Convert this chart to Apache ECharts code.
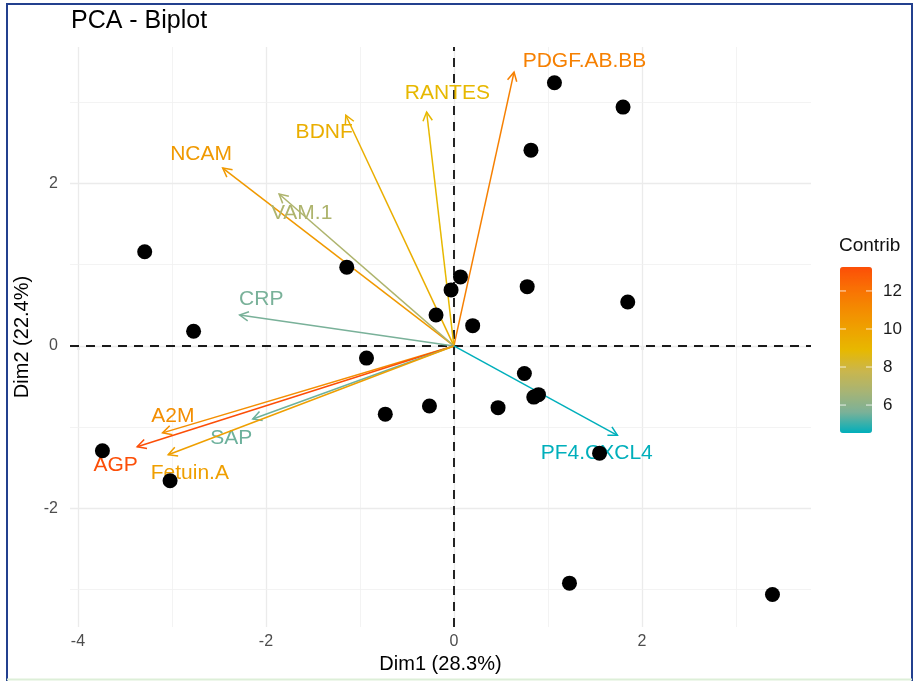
<!DOCTYPE html>
<html>
<head>
<meta charset="utf-8">
<script src="https://cdn.jsdelivr.net/npm/echarts@6/dist/echarts.min.js"></script>
<style>
html,body{margin:0;padding:0;background:#fff;}
#chart{width:914px;height:681px;}
</style>
</head>
<body>
<div id="chart"></div>
<script>
// ---- Data ----
// Variables (arrows)
const varNames   = ['PDGF.AB.BB','RANTES','BDNF','NCAM','VAM.1','CRP','A2M','AGP','SAP','Fetuin.A','PF4.CXCL4'];
const varDim1    = [0.64, -0.29, -1.15, -2.46, -1.86, -2.28, -3.10, -3.37, -2.14, -3.04, 1.74];
const varDim2    = [3.37,  2.88,  2.84,  2.19,  1.87,  0.38, -1.07, -1.24, -0.90, -1.34, -1.10];
const varContrib = [11.5,  8.9,   9.4,  10.4,   6.9,   5.6,  10.9,  13.26,  5.5,  10.1,  4.53];
// label anchor positions (data units)
const labDim1    = [1.39, -0.07, -1.38, -2.69, -1.62, -2.05, -2.99, -3.60, -2.37, -2.81, 1.52];
const labDim2    = [3.51,  3.11,  2.63,  2.36,  1.64,  0.58, -0.86, -1.47, -1.13, -1.57, -1.32];

// Individuals (points)
const indDim1 = [1.07, 1.80, 0.82, -3.29, -1.14, 0.07, -0.03, 0.78, 1.85, -2.77, -0.19, 0.20,
                 -0.93, 0.75, 0.90, 0.85, -0.73, -0.26, 0.47, -3.74, -3.02, 1.55, 1.23, 3.39];
const indDim2 = [3.24, 2.94, 2.41, 1.16, 0.97, 0.85, 0.69, 0.73, 0.54, 0.18, 0.38, 0.25,
                 -0.15, -0.34, -0.60, -0.63, -0.84, -0.74, -0.76, -1.29, -1.66, -1.32, -2.92, -3.06];

// Axes
const xTicks = [-4, -2, 0, 2];
const yTicks = [-2, 0, 2];
const xMajorGrid = [-4, -2, 0, 2];
const xMinorGrid = [-3, -1, 1, 3];
const yMajorGrid = [-2, 0, 2];
const yMinorGrid = [-3, -1, 1, 3];
const xRange = [-4.085, 3.80];
const yRange = [-3.46, 3.68];

// Colour legend (gradient #00AFBB -> #E7B800 -> #FC4E07, stops interpolated in Lab space)
const contribRange = [4.53, 13.26];
const contribTicks = [6, 8, 10, 12];
const gradientCols = ['#00AFBB', '#7BB198', '#A8B474', '#CAB64C', '#E7B800', '#EEA200', '#F48A01', '#F96F04', '#FC4E07'];

const FONT = 'Liberation Sans, Arial, Helvetica, sans-serif';

// ---- Build ----
const arrowData = varNames.map((n, i) => [varDim1[i], varDim2[i], varContrib[i], labDim1[i], labDim2[i], n]);
const pointData = indDim1.map((x, i) => [x, indDim2[i]]);

const gridLines = [];
xMajorGrid.forEach(v => gridLines.push({xAxis: v, lineStyle: {color: '#EBEBEB', width: 1.3, type: 'solid'}}));
xMinorGrid.forEach(v => gridLines.push({xAxis: v, lineStyle: {color: '#F0F0F0', width: 0.8, type: 'solid'}}));
yMajorGrid.forEach(v => gridLines.push({yAxis: v, lineStyle: {color: '#EBEBEB', width: 1.3, type: 'solid'}}));
yMinorGrid.forEach(v => gridLines.push({yAxis: v, lineStyle: {color: '#F0F0F0', width: 0.8, type: 'solid'}}));

const legTop = 267, legHeight = 166, legLeft = 840, legWidth = 32;
const legendGraphics = [];
contribTicks.forEach(v => {
  const y = legTop + (contribRange[1] - v) / (contribRange[1] - contribRange[0]) * legHeight;
  legendGraphics.push({type: 'line', z: 100, shape: {x1: legLeft, y1: y, x2: legLeft + 6, y2: y}, style: {stroke: 'rgba(255,255,255,0.8)', lineWidth: 1}});
  legendGraphics.push({type: 'line', z: 100, shape: {x1: legLeft + legWidth - 6, y1: y, x2: legLeft + legWidth, y2: y}, style: {stroke: 'rgba(255,255,255,0.8)', lineWidth: 1}});
  legendGraphics.push({type: 'text', z: 100, x: legLeft + legWidth + 11, y: y, style: {text: String(v), fill: '#1a1a1a', font: '17px ' + FONT, verticalAlign: 'middle', align: 'left'}});
});
legendGraphics.push({type: 'text', z: 100, x: legLeft - 1, y: 246, style: {text: 'Contrib', fill: '#111', font: '19px ' + FONT, verticalAlign: 'middle', align: 'left'}});
// screenshot frame
legendGraphics.push({type: 'polyline', z: 100, shape: {points: [[7, 681], [7, 4], [912, 4], [912, 681]]}, style: {stroke: '#23408E', lineWidth: 2, fill: null}});
legendGraphics.push({type: 'line', z: 100, shape: {x1: 7, y1: 679.5, x2: 912, y2: 679.5}, style: {stroke: '#DDEFD8', lineWidth: 2}});

const chart = echarts.init(document.getElementById('chart'), null, {renderer: 'canvas'});
chart.setOption({
  backgroundColor: '#fff',
  animation: false,
  title: {
    text: 'PCA - Biplot', left: 71, top: 9, padding: 0,
    textStyle: {fontFamily: FONT, fontSize: 25, fontWeight: 'normal', color: '#000'}
  },
  grid: {left: 70, right: 103, top: 47, bottom: 54},
  xAxis: {
    type: 'value', min: xRange[0], max: xRange[1],
    name: 'Dim1 (28.3%)', nameLocation: 'middle', nameGap: 25,
    nameTextStyle: {fontFamily: FONT, fontSize: 20, color: '#000'},
    axisLine: {show: false},
    axisTick: {show: true, customValues: xTicks, length: 4, lineStyle: {color: '#333', width: 1.2}},
    axisLabel: {customValues: xTicks, margin: 7, fontFamily: FONT, fontSize: 16, color: '#4D4D4D'},
    splitLine: {show: false}
  },
  yAxis: {
    type: 'value', min: yRange[0], max: yRange[1],
    name: 'Dim2 (22.4%)', nameLocation: 'middle', nameGap: 33,
    nameTextStyle: {fontFamily: FONT, fontSize: 20, color: '#000'},
    axisLine: {show: false},
    axisTick: {show: true, customValues: yTicks, length: 4, lineStyle: {color: '#333', width: 1.2}},
    axisLabel: {customValues: yTicks, margin: 12, fontFamily: FONT, fontSize: 16, color: '#4D4D4D'},
    splitLine: {show: false}
  },
  visualMap: {
    type: 'continuous', seriesIndex: 2, dimension: 2,
    min: contribRange[0], max: contribRange[1],
    inRange: {color: gradientCols},
    calculable: false, hoverLink: false,
    left: legLeft, top: legTop, itemWidth: legWidth, itemHeight: legHeight,
    padding: 0, text: null, showLabel: false, textGap: 0,
    orient: 'vertical'
  },
  graphic: legendGraphics,
  series: [
    {
      type: 'scatter', data: [], z: 1, silent: true,
      markLine: {z: 1, silent: true, symbol: ['none', 'none'], label: {show: false}, animation: false, data: gridLines}
    },
    {
      type: 'scatter', data: [], z: 2, silent: true,
      markLine: {
        z: 2, silent: true, symbol: ['none', 'none'], label: {show: false}, animation: false,
        lineStyle: {color: '#1a1a1a', width: 1.9, type: [9, 7]},
        data: [{xAxis: 0}, {yAxis: 0}]
      }
    },
    {
      type: 'custom', z: 3, silent: true,
      data: arrowData,
      encode: {x: 0, y: 1},
      renderItem: function (params, api) {
        const o = api.coord([0, 0]);
        const p = api.coord([api.value(0), api.value(1)]);
        const lab = api.coord([api.value(3), api.value(4)]);
        const color = api.visual('color');
        const ang = Math.atan2(p[1] - o[1], p[0] - o[0]);
        const L = 10, a = Math.PI * 28 / 180;
        const h1 = [p[0] - L * Math.cos(ang - a), p[1] - L * Math.sin(ang - a)];
        const h2 = [p[0] - L * Math.cos(ang + a), p[1] - L * Math.sin(ang + a)];
        return {
          type: 'group',
          children: [
            {type: 'line', shape: {x1: o[0], y1: o[1], x2: p[0], y2: p[1]}, style: {stroke: color, lineWidth: 1.5}},
            {type: 'polyline', shape: {points: [h1, p, h2]}, style: {stroke: color, lineWidth: 1.5, fill: null}},
            {type: 'text', x: lab[0], y: lab[1], style: {text: arrowData[params.dataIndex][5], fill: color, font: '21px ' + FONT, align: 'center', verticalAlign: 'middle'}}
          ]
        };
      }
    },
    {
      type: 'scatter', z: 4, silent: true,
      data: pointData,
      symbol: 'circle', symbolSize: 15,
      itemStyle: {color: '#000', opacity: 1}
    }
  ]
});
</script>
</body>
</html>
